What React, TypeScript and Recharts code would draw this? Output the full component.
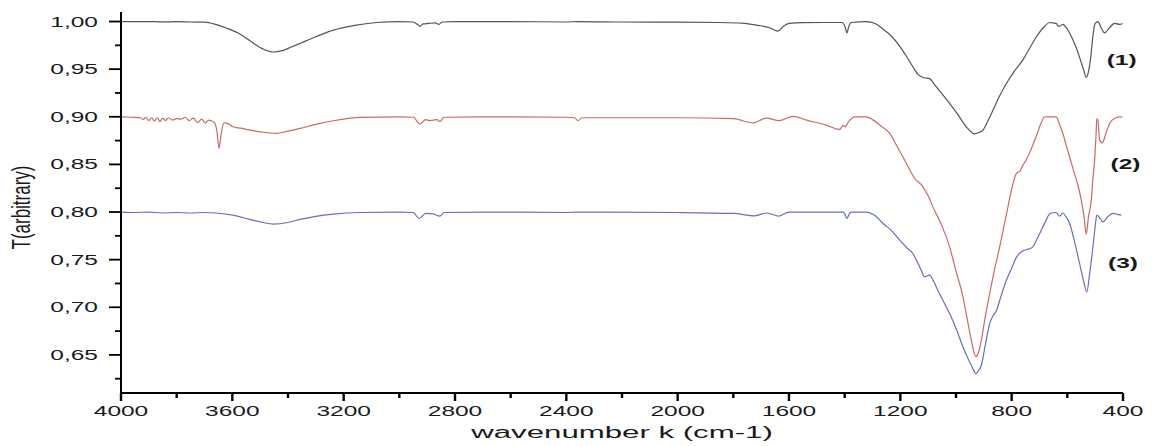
import React from 'react';
import { LineChart, Line, XAxis, YAxis, ReferenceDot } from 'recharts';

// wavenumber (cm-1), transmittance
type Pt = { k: number; t: number };
const toPts = (rows: number[][]): Pt[] => rows.map(([k, t]) => ({ k, t }));

const SAMPLE_1 = toPts([
  [4000, 1.0], [3950, 0.9998], [3900, 1.0], [3850, 0.9996], [3800, 0.9998], [3750, 0.9995],
  [3700, 0.9993], [3660, 0.997], [3620, 0.993], [3573, 0.987], [3513, 0.975], [3480, 0.97],
  [3453, 0.968], [3420, 0.9695], [3390, 0.973], [3357, 0.977], [3300, 0.984], [3237, 0.991],
  [3160, 0.996], [3082, 0.999], [3000, 1.0], [2950, 0.9995], [2935, 0.997], [2926, 0.995],
  [2915, 0.9975], [2895, 0.998], [2870, 0.9985], [2858, 0.997], [2845, 0.9995], [2800, 1.0],
  [2600, 1.0], [2400, 0.9995], [2360, 1.0], [2200, 0.9995], [2000, 0.9993], [1850, 0.999],
  [1760, 0.998], [1712, 0.996], [1670, 0.9935], [1640, 0.99], [1620, 0.995], [1600, 0.998],
  [1550, 0.9988], [1480, 0.999], [1410, 0.999], [1398, 0.994], [1392, 0.988], [1385, 0.995],
  [1376, 0.999], [1322, 1.0], [1290, 0.998], [1262, 0.992], [1230, 0.984], [1202, 0.974],
  [1175, 0.962], [1155, 0.9525], [1135, 0.944], [1115, 0.941], [1095, 0.94], [1075, 0.933],
  [1050, 0.924], [1023, 0.914], [995, 0.903], [963, 0.8895], [945, 0.884], [933, 0.882],
  [918, 0.8835], [903, 0.886], [885, 0.896], [867, 0.907], [845, 0.921], [819, 0.935],
  [790, 0.948], [759, 0.96], [735, 0.972], [711, 0.984], [685, 0.994], [663, 0.999],
  [650, 0.9985], [640, 0.998], [632, 0.995], [625, 0.9955], [616, 0.997], [605, 0.994],
  [592, 0.988], [570, 0.974], [550, 0.957], [540, 0.948], [532, 0.9414], [525, 0.946],
  [515, 0.965], [508, 0.985], [500, 0.998], [490, 1.0], [478, 0.993], [466, 0.988],
  [450, 0.993], [430, 0.998], [412, 0.997], [402, 0.998],
]);

const SAMPLE_2 = toPts([
  [4000, 0.9], [3960, 0.8995], [3930, 0.899], [3920, 0.897], [3910, 0.8995], [3900, 0.896],
  [3890, 0.899], [3880, 0.8955], [3870, 0.899], [3860, 0.895], [3850, 0.8985], [3840, 0.896],
  [3830, 0.899], [3815, 0.8965], [3800, 0.898], [3785, 0.8975], [3770, 0.8995], [3755, 0.896],
  [3740, 0.8985], [3725, 0.894], [3710, 0.8975], [3698, 0.8935], [3685, 0.8965], [3665, 0.894],
  [3655, 0.884], [3648, 0.867], [3640, 0.882], [3630, 0.8935], [3610, 0.892], [3598, 0.8895],
  [3570, 0.888], [3537, 0.886], [3480, 0.8835], [3441, 0.8825], [3400, 0.885], [3357, 0.8878],
  [3300, 0.892], [3237, 0.8958], [3142, 0.8993], [3000, 0.9], [2950, 0.8995], [2926, 0.8923],
  [2905, 0.897], [2890, 0.896], [2865, 0.897], [2854, 0.895], [2840, 0.8995], [2700, 0.9],
  [2400, 0.8995], [2370, 0.899], [2358, 0.8958], [2345, 0.899], [2000, 0.899], [1800, 0.898],
  [1729, 0.8937], [1681, 0.8985], [1636, 0.896], [1585, 0.9005], [1537, 0.8965], [1466, 0.8913],
  [1418, 0.8867], [1405, 0.891], [1398, 0.8895], [1388, 0.894], [1364, 0.9], [1322, 0.9],
  [1300, 0.897], [1274, 0.8913], [1238, 0.8825], [1210, 0.868], [1178, 0.851], [1150, 0.836],
  [1120, 0.827], [1100, 0.817], [1083, 0.8054], [1050, 0.785], [1023, 0.7634], [1000, 0.738],
  [975, 0.711], [960, 0.688], [945, 0.6654], [935, 0.652], [929, 0.648], [920, 0.652],
  [909, 0.6654], [895, 0.69], [879, 0.7144], [860, 0.742], [843, 0.7634], [820, 0.796],
  [795, 0.83], [783, 0.8405], [770, 0.843], [760, 0.849], [747, 0.855], [730, 0.866],
  [711, 0.88], [695, 0.893], [681, 0.9], [665, 0.9], [640, 0.9], [628, 0.892], [616, 0.8825],
  [604, 0.87], [592, 0.858], [574, 0.84], [560, 0.826], [550, 0.8125], [540, 0.795],
  [532, 0.7767], [524, 0.795], [514, 0.8125], [508, 0.835], [502, 0.8545], [497, 0.88],
  [494, 0.898], [490, 0.896], [484, 0.8755], [474, 0.8727], [462, 0.882], [448, 0.893],
  [430, 0.8985], [412, 0.9], [402, 0.8995],
]);

const SAMPLE_3 = toPts([
  [4000, 0.8], [3950, 0.7995], [3900, 0.8], [3850, 0.799], [3800, 0.7995], [3750, 0.799],
  [3700, 0.7995], [3660, 0.799], [3597, 0.7967], [3537, 0.7922], [3490, 0.789], [3453, 0.7873],
  [3400, 0.789], [3357, 0.7922], [3300, 0.7955], [3237, 0.7978], [3142, 0.7995], [3000, 0.8],
  [2950, 0.7995], [2929, 0.7932], [2905, 0.7985], [2880, 0.798], [2854, 0.7957], [2840, 0.7995],
  [2700, 0.8], [2400, 0.7995], [2358, 0.8], [2000, 0.7995], [1800, 0.7985], [1723, 0.796],
  [1680, 0.799], [1636, 0.7957], [1600, 0.8], [1406, 0.8], [1398, 0.797], [1392, 0.7932],
  [1385, 0.797], [1378, 0.8], [1322, 0.8], [1290, 0.796], [1262, 0.788], [1230, 0.78],
  [1202, 0.7704], [1175, 0.762], [1155, 0.7565], [1142, 0.7494], [1125, 0.739], [1113, 0.7319],
  [1095, 0.7337], [1080, 0.727], [1071, 0.7214], [1050, 0.709], [1023, 0.6934], [1000, 0.678],
  [975, 0.6583], [960, 0.648], [945, 0.6391], [935, 0.633], [929, 0.6304], [920, 0.633],
  [909, 0.6391], [895, 0.66], [879, 0.6829], [867, 0.691], [855, 0.6964], [838, 0.712],
  [819, 0.7284], [800, 0.741], [783, 0.7524], [770, 0.757], [759, 0.7594], [740, 0.761],
  [724, 0.7634], [705, 0.774], [688, 0.7844], [675, 0.792], [663, 0.7985], [640, 0.7995],
  [628, 0.7957], [616, 0.799], [605, 0.795], [592, 0.7883], [575, 0.77], [556, 0.746],
  [542, 0.728], [530, 0.7161], [520, 0.735], [508, 0.7634], [500, 0.785], [494, 0.7967],
  [484, 0.794], [472, 0.7897], [455, 0.795], [436, 0.7985], [420, 0.7975], [406, 0.7967],
]);

const X_TICKS = [4000, 3800, 3600, 3400, 3200, 3000, 2800, 2600, 2400, 2200, 2000, 1800, 1600, 1400, 1200, 1000, 800, 600, 400];
const Y_TICKS = [0.625, 0.65, 0.675, 0.7, 0.725, 0.75, 0.775, 0.8, 0.825, 0.85, 0.875, 0.9, 0.925, 0.95, 0.975, 1.0];

const TAGS = [
  { label: '(1)', k: 405, t: 0.9596 },
  { label: '(2)', k: 391, t: 0.8508 },
  { label: '(3)', k: 400, t: 0.7468 },
];

const FONT = '"Liberation Sans", Arial, sans-serif';
const STRETCH = 1.75;
const INK = '#1a1a1a';

const XTick = (props: any) => {
  const { x, y, payload } = props;
  const major = payload.value % 400 === 0;
  return (
    <g>
      <line x1={x} y1={y} x2={x} y2={y + (major ? 8 : 5)} stroke="#000" strokeWidth={2.4} />
      {major && (
        <text
          transform={`translate(${x},${y + 22.5}) scale(${STRETCH},1)`}
          textAnchor="middle"
          fontSize={14}
          fontFamily={FONT}
          fill={INK}
        >
          {payload.value}
        </text>
      )}
    </g>
  );
};

const YTick = (props: any) => {
  const { x, y, payload } = props;
  const v = payload.value;
  const major = Math.round(v * 1000) % 50 === 0;
  return (
    <g>
      <line x1={x - (major ? 12 : 6)} y1={y} x2={x} y2={y} stroke="#000" strokeWidth={1.8} />
      {major && (
        <text
          transform={`translate(${x - 23},${y}) scale(${STRETCH},1)`}
          textAnchor="end"
          dy="0.36em"
          fontSize={14}
          fontFamily={FONT}
          fill={INK}
        >
          {v.toFixed(2).replace('.', ',')}
        </text>
      )}
    </g>
  );
};

const XTitle = (props: any) => {
  const vb = props.viewBox;
  return (
    <text
      transform={`translate(${vb.x + vb.width / 2},${vb.y + 45}) scale(1.95,1)`}
      textAnchor="middle"
      fontSize={16}
      fontFamily={FONT}
      fill={INK}
    >
      wavenumber k (cm-1)
    </text>
  );
};

const YTitle = (props: any) => {
  const vb = props.viewBox;
  return (
    <text
      transform={`translate(${vb.x + 30},${vb.y + vb.height / 2 + 5}) scale(1.5,1) rotate(-90)`}
      textAnchor="middle"
      fontSize={17}
      fontFamily={FONT}
      fill={INK}
    >
      T(arbitrary)
    </text>
  );
};

const Tag = (text: string) => (props: any) => (
  <text
    transform={`translate(${props.cx},${props.cy}) scale(${STRETCH},1)`}
    textAnchor="middle"
    dy="0.36em"
    fontSize={14}
    fontWeight="bold"
    fontFamily={FONT}
    fill={INK}
  >
    {text}
  </text>
);

export default function App() {
  return (
    <div style={{ position: 'absolute', left: 0, top: 0, width: 1152, height: 446, background: '#fff' }}>
      <LineChart width={1152} height={446} margin={{ top: 12, right: 29, bottom: 0, left: 0 }}>
        <XAxis
          type="number"
          dataKey="k"
          domain={[400, 4000]}
          reversed
          allowDataOverflow
          ticks={X_TICKS}
          interval={0}
          tickSize={0}
          tickMargin={0}
          tick={<XTick />}
          tickLine={false}
          axisLine={{ stroke: '#000', strokeWidth: 2 }}
          height={53}
          label={<XTitle />}
        />
        <YAxis
          type="number"
          dataKey="t"
          domain={[0.61, 1.01]}
          allowDataOverflow
          ticks={Y_TICKS}
          interval={0}
          tickSize={0}
          tickMargin={0}
          tick={<YTick />}
          tickLine={false}
          axisLine={{ stroke: '#000', strokeWidth: 2 }}
          width={121}
          label={<YTitle />}
        />
        <Line data={SAMPLE_1} dataKey="t" type="monotone" stroke="#555555" strokeWidth={1.2} dot={false} isAnimationActive={false} />
        <Line data={SAMPLE_2} dataKey="t" type="monotone" stroke="#c86a6a" strokeWidth={1.2} dot={false} isAnimationActive={false} />
        <Line data={SAMPLE_3} dataKey="t" type="monotone" stroke="#6670b8" strokeWidth={1.2} dot={false} isAnimationActive={false} />
        {TAGS.map((g) => (
          <ReferenceDot key={g.label} x={g.k} y={g.t} r={1} ifOverflow="visible" shape={Tag(g.label)} />
        ))}
      </LineChart>
    </div>
  );
}
